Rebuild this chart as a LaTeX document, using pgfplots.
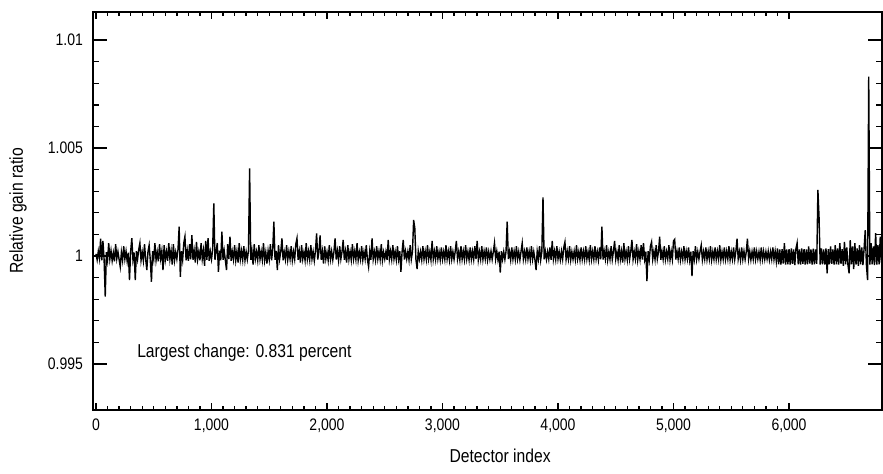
\documentclass[border=0pt]{standalone}
\usepackage{fontspec}
\setmainfont{Liberation Sans}[FakeStretch=0.84]
\usepackage{pgfplots}
\usepackage{pgfplotstable}
\pgfplotsset{compat=1.18}

% Relative gain ratio per detector (every 10th detector)
\pgfplotstableread[row sep=\\]{
x y\\
0 1.00010\\ 10 0.99982\\ 20 1.00022\\ 30 0.99988\\ 40 1.00080\\ 50 0.99980\\ 60 1.00070\\ 70 0.99985\\ 80 0.99812\\ 90 1.00018\\
100 0.99980\\ 110 1.00060\\ 120 0.99986\\ 130 1.00025\\ 140 0.99978\\ 150 1.00015\\ 160 0.99975\\ 170 1.00055\\ 180 0.99988\\ 190 1.00020\\
200 0.99984\\ 210 0.99950\\ 220 1.00018\\ 230 0.99980\\ 240 1.00045\\ 250 0.99986\\ 260 1.00022\\ 270 0.99975\\ 280 1.00015\\ 290 0.99889\\
300 1.00020\\ 310 1.00083\\ 320 0.99982\\ 330 1.00016\\ 340 0.99889\\ 350 1.00022\\ 360 0.99985\\ 370 1.00030\\ 380 1.00060\\ 390 0.99980\\
400 1.00018\\ 410 0.99978\\ 420 1.00055\\ 430 0.99986\\ 440 0.99935\\ 450 1.00020\\ 460 1.00050\\ 470 0.99982\\ 480 0.99881\\ 490 1.00022\\
500 0.99985\\ 510 1.00060\\ 520 0.99980\\ 530 1.00018\\ 540 0.99975\\ 550 1.00055\\ 560 0.99988\\ 570 1.00024\\ 580 0.99935\\ 590 1.00050\\
600 0.99982\\ 610 1.00020\\ 620 0.99978\\ 630 1.00060\\ 640 0.99985\\ 650 1.00025\\ 660 0.99960\\ 670 1.00055\\ 680 0.99980\\ 690 1.00018\\
700 0.99986\\ 710 1.00030\\ 720 1.00136\\ 730 0.99904\\ 740 1.00022\\ 750 0.99982\\ 760 1.00060\\ 770 1.00090\\ 780 0.99980\\ 790 1.00025\\
800 0.99978\\ 810 1.00055\\ 820 0.99985\\ 830 1.00097\\ 840 0.99982\\ 850 1.00024\\ 860 0.99970\\ 870 1.00065\\ 880 0.99984\\ 890 1.00020\\
900 0.99980\\ 910 1.00060\\ 920 0.99986\\ 930 1.00026\\ 940 0.99955\\ 950 1.00070\\ 960 0.99982\\ 970 1.00083\\ 980 0.99978\\ 990 1.00020\\
1000 0.99985\\ 1010 1.00030\\ 1020 1.00244\\ 1030 0.99982\\ 1040 1.00022\\ 1050 1.00060\\ 1060 0.99927\\ 1070 1.00025\\ 1080 0.99980\\ 1090 1.00113\\
1100 0.99982\\ 1110 1.00024\\ 1120 0.99980\\ 1130 0.99935\\ 1140 1.00055\\ 1150 0.99986\\ 1160 1.00090\\ 1170 0.99978\\ 1180 1.00020\\ 1190 0.99984\\
1200 1.00050\\ 1210 0.99980\\ 1220 1.00022\\ 1230 0.99970\\ 1240 1.00060\\ 1250 0.99985\\ 1260 1.00024\\ 1270 0.99982\\ 1280 1.00045\\ 1290 0.99980\\
1300 1.00020\\ 1310 0.99984\\ 1320 1.00025\\ 1330 1.00406\\ 1340 0.99982\\ 1350 1.00022\\ 1360 0.99960\\ 1370 1.00055\\ 1380 0.99986\\ 1390 1.00020\\
1400 0.99980\\ 1410 1.00050\\ 1420 0.99985\\ 1430 1.00022\\ 1440 0.99982\\ 1450 1.00060\\ 1460 0.99980\\ 1470 1.00018\\ 1480 0.99965\\ 1490 1.00024\\
1500 0.99984\\ 1510 1.00055\\ 1520 0.99980\\ 1530 1.00030\\ 1540 1.00159\\ 1550 0.99982\\ 1560 1.00024\\ 1570 0.99935\\ 1580 1.00050\\ 1590 0.99986\\
1600 1.00022\\ 1610 1.00082\\ 1620 0.99980\\ 1630 1.00018\\ 1640 0.99984\\ 1650 1.00050\\ 1660 0.99982\\ 1670 1.00022\\ 1680 0.99986\\ 1690 1.00045\\
1700 0.99980\\ 1710 1.00020\\ 1720 0.99985\\ 1730 1.00055\\ 1740 1.00082\\ 1750 0.99982\\ 1760 1.00022\\ 1770 0.99970\\ 1780 1.00050\\ 1790 0.99986\\
1800 1.00018\\ 1810 0.99980\\ 1820 1.00060\\ 1830 0.99985\\ 1840 1.00022\\ 1850 0.99982\\ 1860 1.00050\\ 1870 0.99986\\ 1880 1.00020\\ 1890 0.99978\\
1900 1.00024\\ 1910 1.00105\\ 1920 0.99984\\ 1930 1.00020\\ 1940 1.00095\\ 1950 0.99982\\ 1960 1.00022\\ 1970 0.99965\\ 1980 1.00045\\ 1990 0.99986\\
2000 1.00018\\ 2010 0.99980\\ 2020 1.00050\\ 2030 0.99985\\ 2040 1.00022\\ 2050 0.99982\\ 2060 1.00020\\ 2070 1.00082\\ 2080 0.99984\\ 2090 1.00024\\
2100 0.99980\\ 2110 1.00045\\ 2120 0.99986\\ 2130 1.00020\\ 2140 1.00074\\ 2150 0.99982\\ 2160 1.00022\\ 2170 0.99970\\ 2180 1.00050\\ 2190 0.99985\\
2200 1.00020\\ 2210 0.99982\\ 2220 1.00055\\ 2230 0.99986\\ 2240 1.00022\\ 2250 0.99984\\ 2260 1.00060\\ 2270 0.99980\\ 2280 1.00018\\ 2290 0.99985\\
2300 1.00045\\ 2310 0.99982\\ 2320 1.00020\\ 2330 0.99986\\ 2340 1.00050\\ 2350 0.99984\\ 2360 0.99950\\ 2370 1.00022\\ 2380 0.99982\\ 2390 1.00082\\
2400 0.99985\\ 2410 1.00020\\ 2420 0.99982\\ 2430 1.00045\\ 2440 0.99986\\ 2450 1.00022\\ 2460 0.99984\\ 2470 1.00055\\ 2480 0.99980\\ 2490 1.00018\\
2500 0.99986\\ 2510 1.00020\\ 2520 0.99982\\ 2530 1.00074\\ 2540 0.99985\\ 2550 1.00022\\ 2560 0.99984\\ 2570 1.00050\\ 2580 0.99986\\ 2590 1.00020\\
2600 0.99982\\ 2610 1.00045\\ 2620 0.99985\\ 2630 1.00022\\ 2640 0.99927\\ 2650 1.00020\\ 2660 1.00074\\ 2670 0.99984\\ 2680 1.00022\\ 2690 0.99986\\
2700 1.00020\\ 2710 0.99982\\ 2720 1.00050\\ 2730 0.99985\\ 2740 1.00020\\ 2750 1.00167\\ 2760 1.00130\\ 2770 0.99984\\ 2780 0.99940\\ 2790 1.00022\\
2800 0.99986\\ 2810 1.00020\\ 2820 0.99982\\ 2830 1.00045\\ 2840 0.99985\\ 2850 1.00022\\ 2860 0.99984\\ 2870 1.00050\\ 2880 0.99986\\ 2890 1.00020\\
2900 0.99982\\ 2910 1.00070\\ 2920 0.99985\\ 2930 1.00022\\ 2940 0.99984\\ 2950 1.00045\\ 2960 0.99986\\ 2970 1.00020\\ 2980 0.99982\\ 2990 1.00040\\
3000 0.99985\\ 3010 1.00020\\ 3020 0.99984\\ 3030 1.00050\\ 3040 0.99986\\ 3050 1.00022\\ 3060 0.99982\\ 3070 1.00045\\ 3080 0.99985\\ 3090 1.00020\\
3100 0.99984\\ 3110 1.00022\\ 3120 1.00070\\ 3130 0.99986\\ 3140 1.00020\\ 3150 0.99982\\ 3160 1.00045\\ 3170 0.99985\\ 3180 1.00022\\ 3190 0.99984\\
3200 1.00050\\ 3210 0.99986\\ 3220 1.00020\\ 3230 0.99982\\ 3240 1.00040\\ 3250 0.99985\\ 3260 1.00022\\ 3270 0.99984\\ 3280 1.00045\\ 3290 0.99986\\
3300 1.00070\\ 3310 0.99982\\ 3320 1.00020\\ 3330 0.99985\\ 3340 1.00045\\ 3350 0.99984\\ 3360 1.00022\\ 3370 0.99986\\ 3380 1.00040\\ 3390 0.99982\\
3400 1.00020\\ 3410 0.99985\\ 3420 1.00022\\ 3430 0.99984\\ 3440 1.00020\\ 3450 1.00060\\ 3460 0.99986\\ 3470 1.00022\\ 3480 0.99982\\ 3490 1.00020\\
3500 0.99923\\ 3510 1.00022\\ 3520 0.99985\\ 3530 1.00020\\ 3540 0.99984\\ 3550 1.00022\\ 3560 1.00159\\ 3570 0.99986\\ 3580 1.00020\\ 3590 0.99982\\
3600 1.00040\\ 3610 0.99985\\ 3620 1.00022\\ 3630 0.99984\\ 3640 1.00045\\ 3650 0.99986\\ 3660 1.00020\\ 3670 0.99982\\ 3680 1.00022\\ 3690 1.00060\\
3700 0.99985\\ 3710 1.00020\\ 3720 0.99984\\ 3730 1.00040\\ 3740 0.99986\\ 3750 1.00022\\ 3760 0.99982\\ 3770 1.00045\\ 3780 0.99985\\ 3790 1.00020\\
3800 0.99984\\ 3810 0.99935\\ 3820 1.00022\\ 3830 0.99986\\ 3840 1.00045\\ 3850 0.99982\\ 3860 1.00020\\ 3870 1.00272\\ 3880 0.99985\\ 3890 1.00022\\
3900 0.99984\\ 3910 1.00020\\ 3920 0.99986\\ 3930 1.00040\\ 3940 0.99982\\ 3950 1.00070\\ 3960 0.99985\\ 3970 1.00022\\ 3980 0.99984\\ 3990 1.00045\\
4000 0.99986\\ 4010 1.00020\\ 4020 0.99982\\ 4030 1.00022\\ 4040 0.99985\\ 4050 1.00040\\ 4060 1.00065\\ 4070 0.99984\\ 4080 1.00022\\ 4090 0.99986\\
4100 1.00045\\ 4110 0.99982\\ 4120 1.00020\\ 4130 0.99985\\ 4140 1.00022\\ 4150 0.99984\\ 4160 1.00050\\ 4170 0.99986\\ 4180 1.00020\\ 4190 0.99982\\
4200 1.00040\\ 4210 0.99985\\ 4220 1.00022\\ 4230 0.99984\\ 4240 1.00045\\ 4250 0.99986\\ 4260 1.00020\\ 4270 0.99982\\ 4280 1.00050\\ 4290 0.99985\\
4300 1.00022\\ 4310 0.99984\\ 4320 1.00045\\ 4330 0.99986\\ 4340 1.00020\\ 4350 0.99982\\ 4360 1.00040\\ 4370 0.99985\\ 4380 1.00136\\ 4390 0.99984\\
4400 1.00022\\ 4410 0.99986\\ 4420 1.00050\\ 4430 0.99982\\ 4440 1.00020\\ 4450 0.99985\\ 4460 1.00045\\ 4470 0.99984\\ 4480 1.00022\\ 4490 1.00070\\
4500 0.99986\\ 4510 1.00020\\ 4520 0.99982\\ 4530 1.00050\\ 4540 0.99985\\ 4550 1.00022\\ 4560 0.99970\\ 4570 1.00060\\ 4580 0.99986\\ 4590 1.00020\\
4600 0.99982\\ 4610 1.00045\\ 4620 0.99985\\ 4630 1.00022\\ 4640 1.00074\\ 4650 0.99984\\ 4660 1.00020\\ 4670 0.99986\\ 4680 1.00055\\ 4690 0.99982\\
4700 1.00022\\ 4710 0.99985\\ 4720 1.00050\\ 4730 0.99984\\ 4740 1.00060\\ 4750 0.99986\\ 4760 1.00020\\ 4770 0.99884\\ 4780 1.00022\\ 4790 0.99982\\
4800 1.00045\\ 4810 1.00065\\ 4820 0.99985\\ 4830 1.00022\\ 4840 0.99984\\ 4850 1.00050\\ 4860 0.99986\\ 4870 1.00020\\ 4880 1.00090\\ 4890 0.99982\\
4900 1.00022\\ 4910 0.99985\\ 4920 1.00045\\ 4930 0.99984\\ 4940 1.00020\\ 4950 0.99986\\ 4960 1.00050\\ 4970 0.99982\\ 4980 1.00022\\ 4990 0.99985\\
5000 1.00070\\ 5010 1.00077\\ 5020 0.99984\\ 5030 1.00022\\ 5040 0.99986\\ 5050 1.00040\\ 5060 0.99982\\ 5070 1.00020\\ 5080 0.99985\\ 5090 1.00045\\
5100 0.99984\\ 5110 1.00022\\ 5120 0.99986\\ 5130 1.00040\\ 5140 0.99982\\ 5150 1.00020\\ 5160 0.99907\\ 5170 1.00022\\ 5180 0.99985\\ 5190 1.00045\\
5200 0.99984\\ 5210 1.00020\\ 5220 0.99986\\ 5230 1.00022\\ 5240 1.00050\\ 5250 0.99982\\ 5260 1.00020\\ 5270 0.99985\\ 5280 1.00040\\ 5290 0.99984\\
5300 1.00022\\ 5310 0.99986\\ 5320 1.00045\\ 5330 0.99982\\ 5340 1.00020\\ 5350 0.99985\\ 5360 1.00040\\ 5370 0.99984\\ 5380 1.00022\\ 5390 0.99986\\
5400 1.00050\\ 5410 0.99982\\ 5420 1.00020\\ 5430 0.99985\\ 5440 1.00040\\ 5450 0.99984\\ 5460 1.00022\\ 5470 0.99986\\ 5480 1.00045\\ 5490 0.99982\\
5500 1.00020\\ 5510 0.99985\\ 5520 1.00040\\ 5530 0.99984\\ 5540 1.00022\\ 5550 1.00080\\ 5560 0.99986\\ 5570 1.00020\\ 5580 0.99982\\ 5590 1.00040\\
5600 0.99985\\ 5610 1.00022\\ 5620 0.99984\\ 5630 1.00020\\ 5640 1.00080\\ 5650 0.99986\\ 5660 1.00022\\ 5670 0.99982\\ 5680 1.00020\\ 5690 0.99985\\
5700 1.00040\\ 5710 0.99984\\ 5720 1.00022\\ 5730 0.99986\\ 5740 1.00020\\ 5750 0.99982\\ 5760 1.00040\\ 5770 0.99985\\ 5780 1.00022\\ 5790 0.99984\\
5800 1.00020\\ 5810 0.99986\\ 5820 1.00022\\ 5830 0.99982\\ 5840 1.00020\\ 5850 0.99985\\ 5860 1.00040\\ 5870 0.99984\\ 5880 1.00022\\ 5890 0.99975\\
5900 1.00035\\ 5910 0.99962\\ 5920 1.00030\\ 5930 0.99960\\ 5940 1.00032\\ 5950 0.99965\\ 5960 1.00060\\ 5970 0.99960\\ 5980 1.00030\\ 5990 0.99962\\
6000 1.00032\\ 6010 0.99960\\ 6020 1.00035\\ 6030 0.99964\\ 6040 1.00030\\ 6050 0.99958\\ 6060 1.00034\\ 6070 1.00060\\ 6080 0.99962\\ 6090 1.00030\\
6100 0.99960\\ 6110 1.00035\\ 6120 0.99964\\ 6130 1.00032\\ 6140 0.99960\\ 6150 1.00030\\ 6160 0.99962\\ 6170 1.00045\\ 6180 0.99965\\ 6190 1.00030\\
6200 0.99960\\ 6210 1.00034\\ 6220 0.99962\\ 6230 1.00030\\ 6240 0.99964\\ 6250 1.00306\\ 6260 1.00180\\ 6270 0.99960\\ 6280 1.00035\\ 6290 0.99962\\
6300 1.00030\\ 6310 0.99960\\ 6320 1.00035\\ 6330 0.99920\\ 6340 1.00032\\ 6350 0.99962\\ 6360 1.00045\\ 6370 0.99964\\ 6380 1.00030\\ 6390 0.99960\\
6400 1.00050\\ 6410 0.99962\\ 6420 1.00035\\ 6430 0.99960\\ 6440 1.00060\\ 6450 0.99964\\ 6460 1.00032\\ 6470 0.99955\\ 6480 1.00065\\ 6490 0.99962\\
6500 1.00040\\ 6510 0.99960\\ 6520 0.99920\\ 6530 1.00074\\ 6540 0.99962\\ 6550 1.00045\\ 6560 0.99940\\ 6570 1.00060\\ 6580 0.99960\\ 6590 1.00035\\
6600 0.99955\\ 6610 1.00050\\ 6620 0.99962\\ 6630 1.00040\\ 6640 0.99958\\ 6650 1.00035\\ 6660 1.00120\\ 6670 0.99960\\ 6680 0.99889\\ 6690 1.00831\\
6700 0.99960\\ 6710 1.00060\\ 6720 0.99962\\ 6730 1.00045\\ 6740 0.99958\\ 6750 1.00106\\ 6760 0.99960\\ 6770 1.00050\\ 6780 0.99962\\ 6790 1.00090\\
6800 0.99970\\
}\gainratio

\begin{document}
\begin{tikzpicture}
\begin{axis}[
  scale only axis,
  width=591.75pt, height=298.5pt,
  xmin=-26, xmax=6805,
  ymin=0.99287, ymax=1.0113,
  xtick={0,1000,2000,3000,4000,5000,6000},
  xticklabels={0,{1,000},{2,000},{3,000},{4,000},{5,000},{6,000}},
  minor x tick num=9,
  ytick={0.995,1,1.005,1.01},
  yticklabels={0.995,1,1.005,1.01},
  minor y tick num=4,
  tick align=inside,
  axis line style={line width=1.5pt},
  every tick/.style={black, line width=1pt},
  x tick style={/pgfplots/major tick length=5.5pt, /pgfplots/minor tick length=2.8pt},
  y tick style={/pgfplots/major tick length=10.5pt, /pgfplots/minor tick length=4.5pt},
  tick label style={font=\fontsize{12.5}{14}\selectfont},
  xticklabel style={yshift=-3pt},
  yticklabel style={xshift=-4pt},
  xlabel={Detector index},
  ylabel={Relative gain ratio},
  label style={font=\fontsize{14}{16}\selectfont},
  xlabel style={at={(axis description cs:0.516,-0.116)}, anchor=center},
  ylabel style={at={(axis description cs:-0.095,0.5)}, anchor=center, rotate=0},
  clip=true,
]
\addplot[black, line width=1.05pt, line join=miter, mark=none] table[x=x, y=y] {\gainratio};
\node[anchor=base west, inner sep=0pt, font=\fontsize{14}{16}\selectfont]
  at (axis cs:355,0.99528) {Largest change: 0.831 percent};
\end{axis}
\pgfresetboundingbox
\path[use as bounding box]
  ([shift={(-69.75pt,-48pt)}]current axis.south west)
  rectangle ([shift={(0.75pt,9pt)}]current axis.north east);
\end{tikzpicture}
\end{document}
